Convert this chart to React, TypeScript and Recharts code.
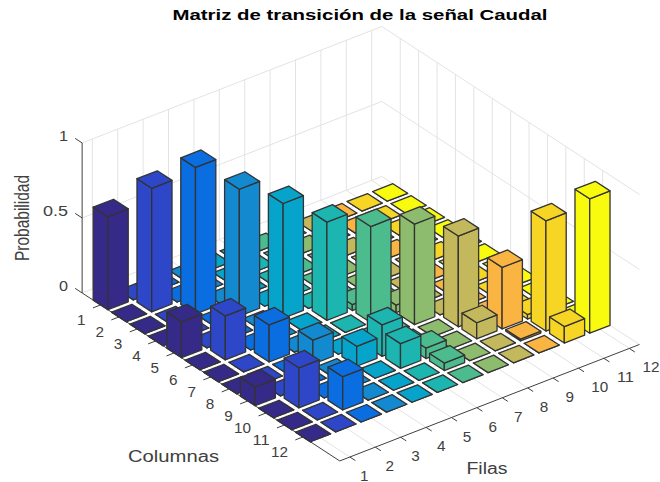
import React from "react";
import { ScatterChart, Scatter, XAxis, YAxis, ReferenceLine } from "recharts";

const columnas = [1, 2, 3, 4, 5, 6, 7, 8, 9, 10, 11, 12];
const filas = [1, 2, 3, 4, 5, 6, 7, 8, 9, 10, 11, 12];
const zTicks = [0, 0.5, 1];

// una fila por cada valor de "Filas"
const probabilidad = [
  [0.62, 0, 0, 0, 0.24, 0, 0, 0, 0.125, 0, 0, 0],
  [0, 0.824, 0, 0, 0, 0.293, 0, 0, 0, 0.267, 0, 0],
  [0, 0, 0.977, 0, 0, 0, 0.247, 0, 0, 0, 0.222, 0],
  [0, 0, 0, 0.846, 0, 0, 0, 0.16, 0, 0, 0, 0],
  [0, 0, 0, 0, 0.765, 0, 0, 0, 0.133, 0, 0, 0],
  [0, 0, 0, 0, 0, 0.655, 0, 0, 0.21, 0.165, 0, 0],
  [0, 0, 0, 0, 0, 0.04, 0.64, 0, 0, 0.07, 0.05, 0],
  [0, 0, 0, 0, 0, 0, 0.05, 0.67, 0, 0, 0, 0],
  [0, 0, 0, 0, 0, 0, 0, 0, 0.605, 0.107, 0, 0],
  [0, 0, 0, 0, 0, 0, 0, 0, 0, 0.41, 0.012, 0],
  [0, 0, 0, 0, 0, 0, 0, 0, 0, 0.03, 0.735, 0.11],
  [0, 0, 0, 0, 0, 0, 0, 0, 0, 0, 0, 0.896],
];

const COLORES = [
  "#352a87", "#2d47c8", "#0a6ee0", "#1389d0", "#06a4ca", "#1cb5b0",
  "#4cbc8e", "#8dbc6e", "#c3b85c", "#f9b442", "#f7d524", "#f9fb0e",
];

// proyeccion de bar3: origen en la celda (1,1), pasos en pixeles
const ORIGEN = { x: 110.7, y: 301 };
const PASO_C = { x: 18.4, y: 12 };
const PASO_F = { x: 25.4, y: -9.87 };
const ALTO_Z = 150;
const MEDIO = 0.4;

const C_MIN = 0;
const C_MAX = 14;
const F_MIN = 0.6;
const F_MAX = 12.4;

const GRID = "#e3e3e3";
const EJE = "#404040";
const TEXTO = "#404040";
const FUENTE = "'Liberation Sans', Arial, sans-serif";

const proyectar = (c: number, f: number, z = 0) => ({
  x: ORIGEN.x + (c - 1) * PASO_C.x + (f - 1) * PASO_F.x,
  y: ORIGEN.y + (c - 1) * PASO_C.y + (f - 1) * PASO_F.y - z * ALTO_Z,
});

const punto = (c: number, f: number, z = 0) => {
  const p = proyectar(c, f, z);
  return { sx: p.x, sy: p.y };
};

// de atras hacia adelante
const barras = filas
  .flatMap((f) =>
    columnas.map((c) => ({
      ...punto(c, f),
      c,
      f,
      valor: probabilidad[f - 1][c - 1],
    }))
  )
  .sort((a, b) => a.c - a.f - (b.c - b.f));

const Barra = (props: any) => {
  const { cx, cy, payload } = props;
  const h = payload.valor * ALTO_Z;
  const color = COLORES[payload.f - 1];
  const v = (dc: number, df: number, dz: number) =>
    `${cx + dc * PASO_C.x + df * PASO_F.x},${cy + dc * PASO_C.y + df * PASO_F.y - dz}`;
  const m = MEDIO;
  const caras = [
    [v(-m, -m, 0), v(m, -m, 0), v(m, -m, h), v(-m, -m, h)],
    [v(m, -m, 0), v(m, m, 0), v(m, m, h), v(m, -m, h)],
    [v(-m, -m, h), v(m, -m, h), v(m, m, h), v(-m, m, h)],
  ];
  return (
    <g>
      {caras.map((cara, i) => (
        <polygon
          key={i}
          points={cara.join(" ")}
          fill={color}
          stroke="#333333"
          strokeWidth={1.3}
          strokeLinejoin="round"
        />
      ))}
    </g>
  );
};

const Etiqueta = (props: any) => {
  const { cx, cy, payload } = props;
  return (
    <text
      x={cx}
      y={cy}
      fill={payload.color || TEXTO}
      fontFamily={FUENTE}
      fontSize={payload.size || 15}
      fontWeight={payload.weight || "normal"}
      textAnchor={payload.anchor || "middle"}
      dominantBaseline={payload.base || "central"}
      textLength={payload.largo}
      lengthAdjust={payload.largo ? "spacingAndGlyphs" : undefined}
      transform={payload.rot ? `rotate(${payload.rot} ${cx} ${cy})` : undefined}
    >
      {payload.texto}
    </text>
  );
};

const etiquetas = [
  ...columnas.map((c) => {
    const p = proyectar(c, F_MIN);
    return { sx: p.x - 15, sy: p.y + 15, texto: String(c), anchor: "end", largo: c > 9 ? 17 : 8.5 };
  }),
  ...filas.map((f) => {
    const p = proyectar(C_MAX, f);
    return {
      sx: p.x + 10 + (f - 1) * 0.3,
      sy: p.y + 18.5,
      texto: String(f),
      anchor: "start",
      largo: f > 9 ? 17 : 8.5,
    };
  }),
  ...zTicks.map((z) => {
    const p = proyectar(C_MIN, F_MIN, z);
    return {
      sx: p.x - 14,
      sy: p.y - 7,
      texto: String(z),
      anchor: "end",
      largo: z === 0.5 ? 25 : 9,
    };
  }),
  {
    sx: 360, sy: 19.5, texto: "Matriz de transición de la señal Caudal",
    size: 15.5, weight: "bold", color: "#000000", largo: 375, base: "auto",
  },
  { sx: 173.5, sy: 461.5, texto: "Columnas", size: 16, largo: 91, base: "auto" },
  { sx: 487, sy: 474, texto: "Filas", size: 16, largo: 41, base: "auto" },
  { sx: 28.5, sy: 218, texto: "Probabilidad", size: 19.5, largo: 86, rot: -90, base: "auto" },
];

type P = { x: number; y: number };
const seg = (a: P, b: P): [{ x: number; y: number }, { x: number; y: number }] => [
  { x: a.x, y: a.y },
  { x: b.x, y: b.y },
];

const lineasGrid = [
  // suelo
  ...columnas.map((c) => seg(proyectar(c, F_MIN), proyectar(c, F_MAX))),
  ...filas.map((f) => seg(proyectar(C_MIN, f), proyectar(C_MAX, f))),
  // paredes
  ...filas.map((f) => seg(proyectar(C_MIN, f), proyectar(C_MIN, f, 1))),
  ...columnas.map((c) => seg(proyectar(c, F_MAX), proyectar(c, F_MAX, 1))),
  ...zTicks.map((z) => seg(proyectar(C_MIN, F_MIN, z), proyectar(C_MIN, F_MAX, z))),
  ...zTicks.map((z) => seg(proyectar(C_MIN, F_MAX, z), proyectar(C_MAX, F_MAX, z))),
];

const lineasEje = [
  seg(proyectar(C_MIN, F_MIN), proyectar(C_MIN, F_MIN, 1)),
  seg(proyectar(C_MIN, F_MIN), proyectar(C_MAX, F_MIN)),
  seg(proyectar(C_MAX, F_MIN), proyectar(C_MAX, F_MAX)),
  ...columnas.map((c) => seg(proyectar(c, F_MIN), proyectar(c, F_MIN - 0.3))),
  ...filas.map((f) => seg(proyectar(C_MAX, f), proyectar(C_MAX + 0.3, f))),
  ...zTicks.map((z) => seg(proyectar(C_MIN, F_MIN, z), proyectar(C_MIN - 0.38, F_MIN, z))),
];

export default function App() {
  return (
    <div style={{ position: "absolute", left: 0, top: 0, background: "#fff" }}>
      <ScatterChart width={660} height={482} margin={{ top: 0, right: 0, bottom: 0, left: 0 }}>
        <XAxis type="number" dataKey="sx" domain={[0, 660]} hide />
        <YAxis type="number" dataKey="sy" domain={[0, 482]} reversed hide />
        {lineasGrid.map((s, i) => (
          <ReferenceLine key={`g${i}`} segment={s} stroke={GRID} strokeWidth={1} ifOverflow="visible" />
        ))}
        {lineasEje.map((s, i) => (
          <ReferenceLine key={`e${i}`} segment={s} stroke={EJE} strokeWidth={1} ifOverflow="visible" />
        ))}
        <Scatter data={barras} shape={<Barra />} isAnimationActive={false} />
        <Scatter data={etiquetas} shape={<Etiqueta />} isAnimationActive={false} />
      </ScatterChart>
    </div>
  );
}
